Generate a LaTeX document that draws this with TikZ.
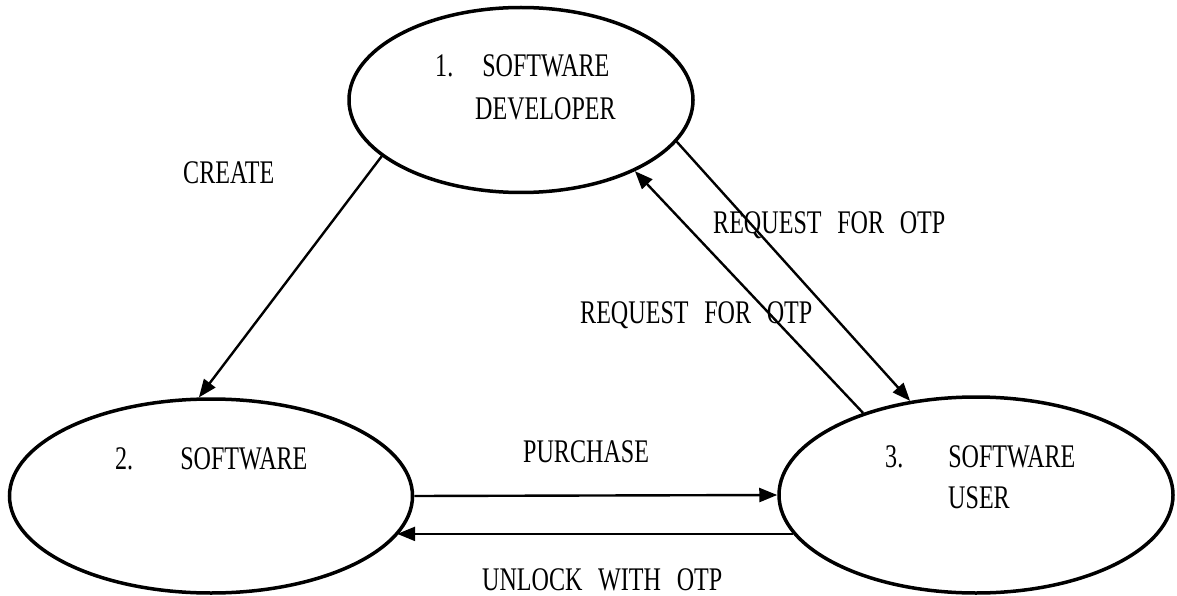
\documentclass[tikz,border=0pt]{standalone}
\usepackage{fontspec}
\usetikzlibrary{shapes.geometric,arrows.meta}
\newfontfamily\labfont[FakeStretch=0.73,WordSpace=2.6]{Liberation Serif}
\tikzset{
  state/.style={ellipse,draw,line width=3.5pt,inner sep=0pt},
  flow/.style={line width=2.4pt,-{Triangle[length=18pt,width=14pt]}},
  lab/.style={anchor=base west,inner sep=0pt,font=\labfont\fontsize{33}{33}\selectfont}
}
\begin{document}
\begin{tikzpicture}[x=1pt,y=-1pt]
  \useasboundingbox (0,0) rectangle (1177,596);

  % the three actors
  \node[state,minimum width=344pt,minimum height=185pt] (dev)  at (521,100) {};
  \node[state,minimum width=403pt,minimum height=194pt] (sw)   at (211,496) {};
  \node[state,minimum width=394pt,minimum height=196pt] (user) at (976,495) {};

  % ellipse captions
  \node[lab] (devA)  at (435,77)  {1.\hspace{29pt}SOFTWARE};
  \node[lab] (devB)  at (475,120) {DEVELOPER};
  \node[lab] (swA)   at (115,469) {2.\hspace{47pt}SOFTWARE};
  \node[lab] (userA) at (885,467) {3.\hspace{45pt}SOFTWARE};
  \node[lab] (userB) at (948,508) {USER};

  % connectors
  \draw[flow] (dev.202.3) -- (sw.97.6);
  \draw[flow] (dev.345.9) -- (user.125.1);
  \draw[flow] (user.144.0) -- (dev.328.9);
  \draw[flow] (sw.east) -- (user.west);
  \draw[flow] (user.192.6) -- (sw.348 |- user.192.6);

  % connector labels
  \node[lab] (lcreate)   at (183,183) {CREATE};
  \node[lab] (lreqdown)  at (713,233) {REQUEST FOR OTP};
  \node[lab] (lrequp)    at (580,323) {REQUEST FOR OTP};
  \node[lab] (lpurchase) at (523,462) {PURCHASE};
  \node[lab] (lunlock)   at (482,590) {UNLOCK WITH OTP};
\end{tikzpicture}
\end{document}
